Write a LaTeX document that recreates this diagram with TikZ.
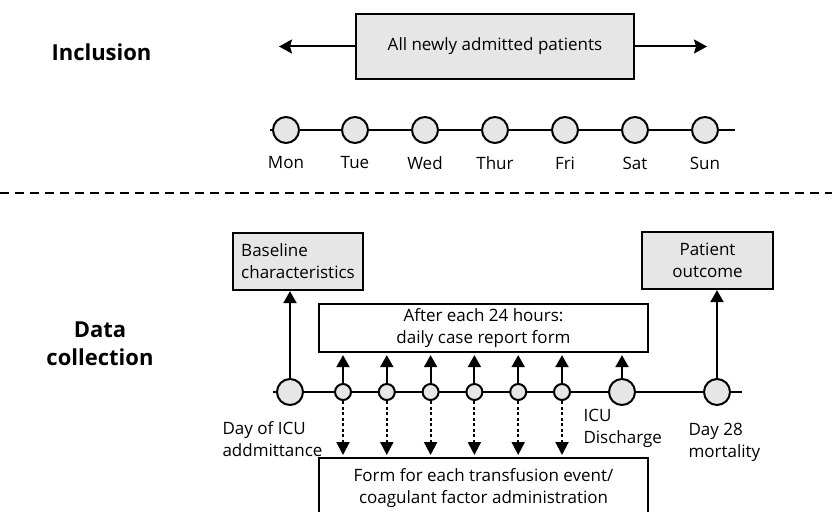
\documentclass[tikz,border=0pt]{standalone}
\usepackage{fontspec}
\setmainfont{Open Sans}
\usetikzlibrary{arrows.meta}
\definecolor{boxgray}{HTML}{E6E6E6}
\begin{document}
\begin{tikzpicture}[x=1pt,y=-1pt,
  ln/.style={line width=2pt},
  arr/.style={line width=2pt,-{Triangle[width=13pt,length=12pt]}},
  harr/.style={line width=2pt,-{Stealth[width=14pt,length=13pt,inset=2pt]}},
  darr/.style={line width=2pt,dash pattern=on 3pt off 2.5pt,-{Triangle[width=13pt,length=13pt]}},
  gbox/.style={draw,line width=2.2pt,fill=boxgray,inner sep=0pt},
  wbox/.style={draw,line width=2.2pt,fill=white,inner sep=0pt},
  bigday/.style={circle,draw,line width=2pt,fill=boxgray,minimum size=26pt,inner sep=0pt},
  smday/.style={circle,draw,line width=2pt,fill=boxgray,minimum size=16pt,inner sep=0pt},
  lbl/.style={font=\fontsize{17}{22}\selectfont},
  head/.style={font=\fontsize{22}{28}\selectfont\bfseries,align=center}]
\useasboundingbox (0,0) rectangle (832,511);
\clip (0,0) rectangle (832,511);

% ---------- Inclusion ----------
\node[head] (inc) at (101.5,52) {Inclusion};
\node[gbox,minimum width=278pt,minimum height=65pt,lbl] (all) at (495,46.5) {All newly admitted patients};
\coordinate (lt) at (279,46.5);
\coordinate (rt) at (707,46.5);
\draw[harr] (all.west) -- (lt);
\draw[harr] (all.east) -- (rt);

\coordinate (ta) at (270,130);
\coordinate (tb) at (735,130);
\draw[ln] (ta) -- (tb);
\foreach \x/\d [count=\i] in {286/Mon,355/Tue,425/Wed,495/Thur,565/Fri,635/Sat,705/Sun}{
  \node[bigday] (w\i) at (\x,130) {};
  \node[lbl] (wl\i) at (\x,163) {\d};
}

% ---------- separator ----------
\coordinate (sa) at (0,193);
\coordinate (sb) at (832,193);
\draw[line width=2pt,dash pattern=on 9pt off 6pt] (sa) -- (sb);

% ---------- Data collection ----------
\node[head] (dc) at (100,344) {Data\\collection};

\node[gbox,minimum width=130pt,minimum height=57pt,lbl,align=left] (base) at (298,261.5) {Baseline\\characteristics};
\node[gbox,minimum width=131pt,minimum height=57pt,lbl,align=center] (outc) at (707.5,260.5) {Patient\\outcome};
\node[wbox,minimum width=329pt,minimum height=48pt,lbl,align=center] (daily) at (483.5,328) {After each 24 hours:\\daily case report form};
\node[wbox,minimum width=329pt,minimum height=90pt,anchor=north] (form) at (483.5,457) {};
\node[lbl,align=center,anchor=north] (formt) at ([yshift=-8pt]form.north) {Form for each transfusion event/\\coagulant factor administration};

\coordinate (la) at (273,392);
\coordinate (lb) at (742,392);
\draw[ln] (la) -- (lb);

\node[bigday] (adm) at (290,392) {};
\node[bigday] (dis) at (622,392) {};
\node[bigday] (d28) at (717,392) {};
\foreach \x [count=\i] in {343,386.8,430.6,474.4,518.2,562}{
  \node[smday] (s\i) at (\x,392) {};
  \draw[arr,shorten >=2pt] (s\i.north) -- (s\i.north |- daily.south);
  \draw[darr,shorten >=2pt] (s\i.south) -- (s\i.south |- form.north);
}
\draw[arr] (adm.north) -- (adm.north |- base.south);
\draw[arr,shorten >=2pt] (dis.north) -- (dis.north |- daily.south);
\draw[arr] (d28.north) -- (d28.north |- outc.south);

\node[lbl,anchor=west,align=left] (admt) at (219,439) {Day of ICU\\addmittance};
\node[lbl,anchor=west,align=left] (dist) at (580,428.5) {ICU\\Discharge};
\node[lbl,anchor=west,align=left] (d28t) at (685,442.5) {Day 28\\mortality};
\end{tikzpicture}
\end{document}
